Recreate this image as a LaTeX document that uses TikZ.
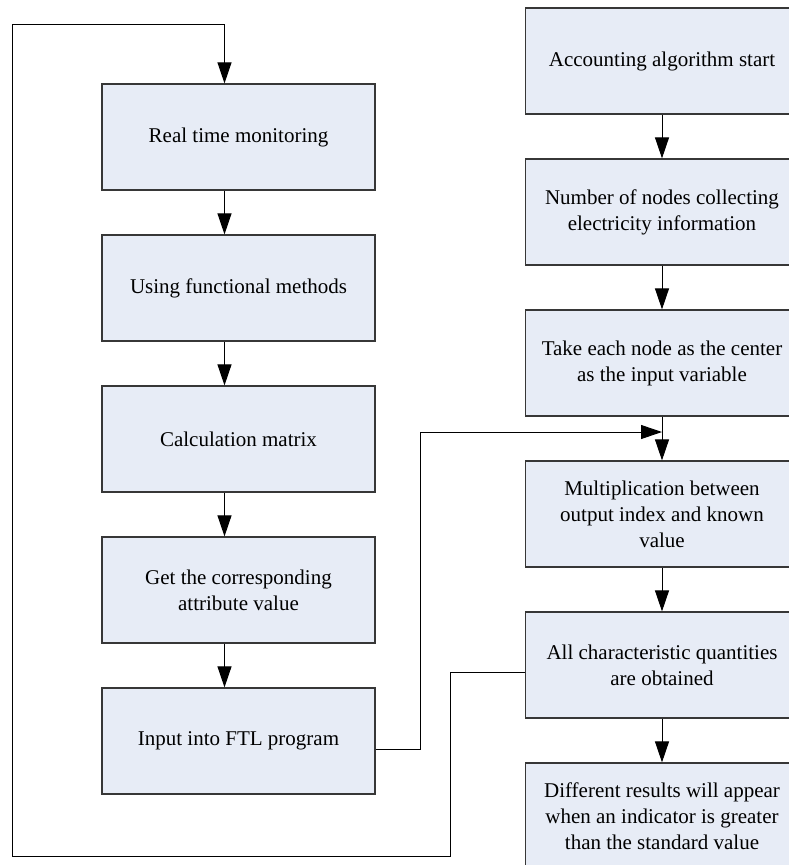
\documentclass[tikz,border=0pt]{standalone}
\usepackage{fontspec}
\setmainfont{Liberation Serif}
\newfontfamily\boxfont{Liberation Serif}
\usetikzlibrary{arrows.meta,positioning}
\definecolor{boxfill}{RGB}{231,236,246}
\definecolor{boxline}{RGB}{55,55,55}

\begin{document}
\begin{tikzpicture}[x=1pt,y=-1pt,node distance=151pt,>={Triangle[length=21pt,width=14pt]}]

  \tikzstyle{stepbox}=[rectangle,draw=boxline,line width=1.2pt,fill=boxfill,
  		       minimum width=273pt,minimum height=106pt,align=center,
  		       font=\boxfont\fontsize{21}{26}\selectfont]
  \tikzstyle{flow}=[->,line width=1pt,black]

  \clip (0,0) rectangle (789,865);

  % Left column
  \node [stepbox] (rtm) at (238.5,137)   {Real time monitoring};
  \node [stepbox] (ufm) [below of=rtm]  {Using functional methods};
  \node [stepbox] (cm)  [below of=ufm]  {Calculation matrix};
  \node [stepbox] (gav) [below of=cm]   {Get the corresponding\\attribute value};
  \node [stepbox] (ftl) [below of=gav]  {Input into FTL program};

  % Right column
  \node [stepbox] (acc)  at (662,61)      {Accounting algorithm start};
  \node [stepbox] (num)  [below of=acc]  {Number of nodes collecting\\electricity information};
  \node [stepbox] (take) [below of=num]  {Take each node as the center\\as the input variable};
  \node [stepbox] (mul)  [below of=take] {Multiplication between\\output index and known\\value};
  \node [stepbox] (allq) [below of=mul]  {All characteristic quantities\\are obtained};
  \node [stepbox] (diff) [below of=allq] {Different results will appear\\when an indicator is greater\\than the standard value};

  \coordinate (jump)  at (420,432);
  \coordinate (loopa) at (450,856);
  \coordinate (loopb) at (12,24);

  % left arrows
  \draw [flow] ([xshift=-14pt]rtm.south) -- ([xshift=-14pt]ufm.north);
  \draw [flow] ([xshift=-14pt]ufm.south) -- ([xshift=-14pt]cm.north);
  \draw [flow] ([xshift=-14pt]cm.south)  -- ([xshift=-14pt]gav.north);
  \draw [flow] ([xshift=-14pt]gav.south) -- ([xshift=-14pt]ftl.north);

  % right arrows
  \draw [flow] (acc)  -- (num);
  \draw [flow] (num)  -- (take);
  \draw [flow] (take) -- (mul);
  \draw [flow] (mul)  -- (allq);
  \draw [flow] (allq) -- (diff);

  % crossing links
  \draw [flow] ([yshift=-8pt]ftl.east) -| (jump) -- (jump -| take.south);
  \draw [flow] ([yshift=-7pt]allq.west) -| (loopa) -| (loopb) -| ([xshift=-14pt]rtm.north);
\end{tikzpicture}
\end{document}
